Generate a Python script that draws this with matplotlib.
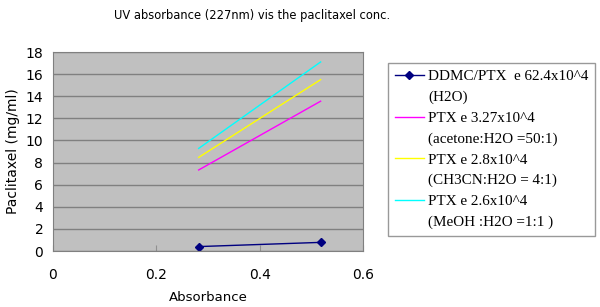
import matplotlib
matplotlib.use("Agg")
import matplotlib.pyplot as plt
from matplotlib.lines import Line2D

absorbance = [0.282, 0.518]
ddmc = [0.40, 0.78]
ptx_acetone = [7.33, 13.55]
ptx_ch3cn = [8.47, 15.5]
ptx_meoh = [9.28, 17.1]

labels = [
    ("DDMC/PTX  e 62.4x10^4", "(H2O)"),
    ("PTX e 3.27x10^4", "(acetone:H2O =50:1)"),
    ("PTX e 2.8x10^4", "(CH3CN:H2O = 4:1)"),
    ("PTX e 2.6x10^4", "(MeOH :H2O =1:1 )"),
]
xticks = [0, 0.2, 0.4, 0.6]
yticks = [0, 2, 4, 6, 8, 10, 12, 14, 16, 18]

fig = plt.figure(figsize=(6, 3.07), dpi=100)
ax = fig.add_axes([0.0883, 0.1824, 0.5167, 0.6482])
ax.set_facecolor("#C0C0C0")

l1, = ax.plot(absorbance, ddmc, color="#000080", marker="D", markersize=4.5, lw=1)
l2, = ax.plot(absorbance, ptx_acetone, color="#FF00FF", lw=1)
l3, = ax.plot(absorbance, ptx_ch3cn, color="#FFFF00", lw=1)
l4, = ax.plot(absorbance, ptx_meoh, color="#00FFFF", lw=1)

ax.set_xlim(0, 0.6)
ax.set_ylim(0, 18)
ax.set_xticks(xticks)
ax.set_xticklabels(["0", "0.2", "0.4", "0.6"])
ax.set_yticks(yticks)
ax.yaxis.grid(True, color="#808080", lw=1)
ax.set_axisbelow(True)
for s in ax.spines.values():
    s.set_color("#808080")
ax.tick_params(axis="x", direction="in", length=4, pad=12, labelsize=10, color="#909090")
ax.tick_params(axis="y", length=0, pad=7, labelsize=10)

ax.set_xlabel("Absorbance", fontsize=9.5, labelpad=7)
ax.set_ylabel("Paclitaxel (mg/ml)", fontsize=10, labelpad=4)
fig.text(252 / 600, 1 - 15 / 307, "UV absorbance (227nm) vis the paclitaxel conc.",
         fontsize=8.3, ha="center", va="center")

blank = Line2D([], [], color="none")
handles = []
texts = []
for h, (a, b) in zip([l1, l2, l3, l4], labels):
    handles += [h, blank]
    texts += [a, b]

leg = fig.legend(handles, texts, loc="upper left", bbox_to_anchor=(388 / 600, 1 - 63 / 307),
                 prop={"family": "Liberation Serif", "size": 10.9},
                 frameon=True, fancybox=False, edgecolor="#808080",
                 handlelength=1.9, handletextpad=0.3, labelspacing=0.47,
                 borderpad=0.45, borderaxespad=0)
leg.get_frame().set_linewidth(1)

fig.savefig("out.png", dpi=100)
